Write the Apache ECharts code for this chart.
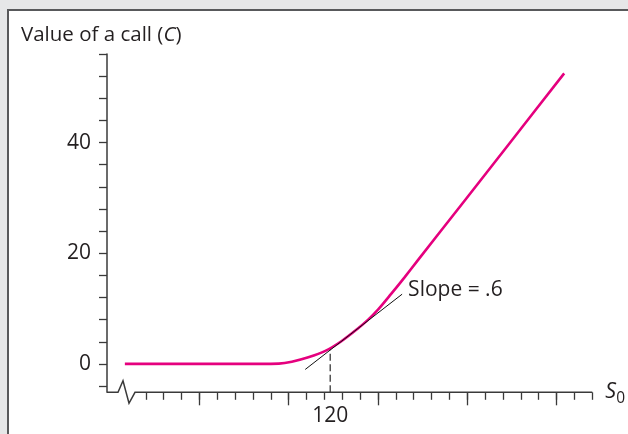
<!DOCTYPE html>
<html>
<head>
<meta charset="utf-8">
<script src="https://cdn.jsdelivr.net/npm/echarts@6/dist/echarts.min.js"></script>
<style>html,body{margin:0;padding:0;background:#e6e7e8;}#c{width:628px;height:434px;}</style>
</head>
<body>
<div id="c"></div>
<script>
// ---- data ----
var callS = [74, 104, 108.5, 111.4, 115.1, 118.8, 122.5, 126.2, 128.5, 130.7, 133.6, 136.6, 139.6, 150, 160, 172.4];
var callC = [0, 0, 0.05, 0.4, 1.2, 2.3, 4.1, 6.4, 8.0, 9.8, 12.6, 15.6, 18.7, 29.4, 39.7, 52.5];
var tangentS = [114.4, 136.1];
var tangentC = [-1.0, 12.6];
var strikeS = 120;
var strikeC = 2.85;
var xTicks = [78.7, 82.7, 86.7, 90.7, 94.7, 98.7, 102.7, 106.7, 110.7, 114.7, 118.7, 122.7, 126.7,
              130.7, 134.7, 138.7, 142.7, 146.7, 150.7, 154.7, 158.7, 162.7, 166.7, 170.7, 174.7, 178.7];
var xLongTicks = [90.7, 110.7, 130.7, 150.7, 170.7];
var xLabels = [120];
var yTicks = [-4, 0, 4, 8, 12, 16, 20, 24, 28, 32, 36, 40, 44, 48, 52, 56];
var yLabels = [0, 20, 40];
var slopeText = 'Slope = .6';
var yTitle = 'Value of a call (';
var yTitleVar = 'C';
var xName = 'S';
var xNameSub = '0';

var X_MIN = 70, X_MAX = 178.7, Y_MIN = -5.13, Y_MAX = 56;
var FONT = '"Open Sans", "Noto Sans", sans-serif';
var TXT = '#231f20';
var AX = '#3a3a3a';

var curve = callS.map(function (s, i) { return [s, callC[i]]; });
var tangent = tangentS.map(function (s, i) { return [s, tangentC[i]]; });

var chart = echarts.init(document.getElementById('c'), null, {renderer: 'canvas'});
chart.setOption({
  backgroundColor: '#e6e7e8',
  animation: false,
  textStyle: {fontFamily: FONT, color: TXT},
  graphic: [
    {type: 'rect', z: -10, shape: {x: 8, y: 10, width: 640, height: 440}, style: {fill: '#ffffff', stroke: '#58595b', lineWidth: 2}},
    {type: 'text', left: 21, top: 25, z: 10,
      style: {text: yTitle + '{i|' + yTitleVar + '})', fontFamily: FONT, fontSize: 20.5, fill: TXT,
        rich: {i: {fontStyle: 'italic', fontFamily: FONT, fontSize: 20.5, fill: TXT}}}}
  ],
  grid: {left: 107, right: 32, top: 54, bottom: 41.7},
  xAxis: [{
    type: 'value', min: X_MIN, max: X_MAX, position: 'bottom',
    axisLine: {show: false, onZero: false},
    splitLine: {show: false},
    axisTick: {show: true, length: 7.5, customValues: xTicks, lineStyle: {color: AX, width: 1.3}},
    axisLabel: {customValues: xLabels, margin: 13, fontSize: 21, color: TXT, fontFamily: FONT},
    name: '{s|' + xName + '}{sub|' + xNameSub + '}',
    nameLocation: 'end', nameGap: 13,
    nameTextStyle: {rich: {
      s: {fontStyle: 'italic', fontSize: 21.5, color: TXT, fontFamily: FONT},
      sub: {fontSize: 15.5, color: TXT, fontFamily: FONT, padding: [12, 0, 0, 0]}
    }}
  }, {
    type: 'value', min: X_MIN, max: X_MAX, position: 'bottom',
    axisLine: {show: false, onZero: false},
    splitLine: {show: false},
    axisTick: {show: true, length: 13, customValues: xLongTicks, lineStyle: {color: AX, width: 1.3}},
    axisLabel: {show: false}
  }],
  yAxis: {
    type: 'value', min: Y_MIN, max: Y_MAX,
    axisLine: {show: true, onZero: false, lineStyle: {color: AX, width: 1.5}},
    splitLine: {show: false},
    axisTick: {show: true, length: 8, customValues: yTicks, lineStyle: {color: AX, width: 1.3}},
    axisLabel: {customValues: yLabels, margin: 16, fontSize: 21, color: TXT, fontFamily: FONT}
  },
  series: [
    {
      type: 'custom', silent: true, z: 5,
      data: [[X_MIN, Y_MIN]],
      renderItem: function (params, api) {
        var p0 = api.coord([X_MIN, Y_MIN]);
        var p1 = api.coord([X_MAX, Y_MIN]);
        var x = p0[0], y = p0[1];
        return {
          type: 'polyline',
          shape: {points: [[x, y], [x + 11, y], [x + 16, y - 11.5], [x + 22, y + 11], [x + 28, y], [p1[0], p1[1]]]},
          style: {stroke: AX, lineWidth: 1.5, fill: null}
        };
      }
    },
    {
      type: 'line', data: [[strikeS, Y_MIN], [strikeS, strikeC]], symbol: 'none', z: 3,
      lineStyle: {color: '#555555', width: 1.5, type: [7, 3.5]}
    },
    {
      type: 'line', data: curve, symbol: 'none', smooth: 0.3, z: 4,
      lineStyle: {color: '#e5007e', width: 2.6}
    },
    {
      type: 'line', data: tangent, symbol: 'none', z: 6,
      lineStyle: {color: '#111111', width: 1},
      markPoint: {
        symbol: 'circle', symbolSize: 0,
        data: [{coord: tangent[1], value: slopeText}],
        label: {show: true, position: 'right', distance: 6, offset: [0, -4], formatter: slopeText,
          fontSize: 21, color: TXT, fontFamily: FONT}
      }
    }
  ]
});
</script>
</body>
</html>
